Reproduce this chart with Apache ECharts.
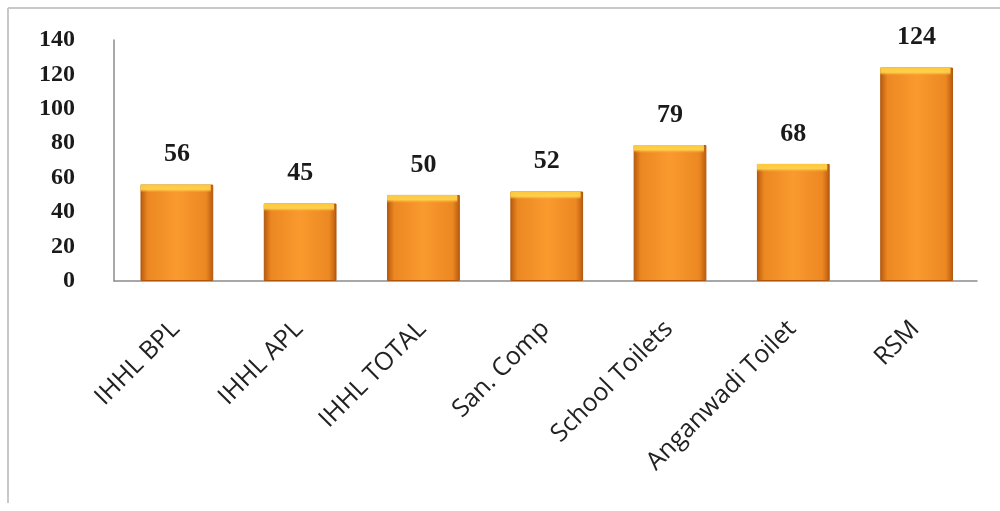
<!DOCTYPE html>
<html><head><meta charset="utf-8">
<script src="https://cdn.jsdelivr.net/npm/echarts@6/dist/echarts.min.js"></script>
<style>html,body{margin:0;padding:0;background:#fff}#c{width:1000px;height:511px}</style>
</head><body><div id="c"></div>
<script>
const categories = ['IHHL BPL', 'IHHL APL', 'IHHL TOTAL', 'San. Comp', 'School Toilets', 'Anganwadi Toilet', 'RSM'];
const values = [56, 45, 50, 52, 79, 68, 124];
const yTicks = [0, 20, 40, 60, 80, 100, 120, 140];

const chart = echarts.init(document.getElementById('c'), null, {renderer: 'canvas'});
const barFill = new echarts.graphic.LinearGradient(0, 0, 1, 0, [
  {offset: 0, color: '#B8590C'},
  {offset: 0.1, color: '#EC8822'},
  {offset: 0.5, color: '#F99A2E'},
  {offset: 0.9, color: '#EC8822'},
  {offset: 1, color: '#B8590C'}
]);
const plotH = 511 - 40 - 230;
const yMax = yTicks[yTicks.length - 1];
// top bevel highlight overlay (style only, same values)
const highlight = values.map(v => {
  const h = v / yMax * plotH;
  const o = Math.min(0.5, 8 / h);
  return {
    value: v,
    itemStyle: {
      color: new echarts.graphic.LinearGradient(0, 0, 0, 1, [
        {offset: 0, color: 'rgba(255,200,60,1)'},
        {offset: o * 0.6, color: 'rgba(255,215,80,0.9)'},
        {offset: o, color: 'rgba(255,180,60,0)'},
        {offset: 1, color: 'rgba(255,180,60,0)'}
      ])
    }
  };
});
chart.setOption({
  animation: false,
  backgroundColor: '#fff',
  graphic: [
    {type: 'line', silent: true, shape: {x1: 8, y1: 8, x2: 1000, y2: 8}, style: {stroke: '#c8c8c8', lineWidth: 2}},
    {type: 'line', silent: true, shape: {x1: 8, y1: 8, x2: 8, y2: 503}, style: {stroke: '#c8c8c8', lineWidth: 2}}
  ],
  grid: {left: 114, right: 23, top: 40, bottom: 230},
  xAxis: {
    type: 'category', data: categories,
    axisLine: {show: true, lineStyle: {color: '#8c8c8c', width: 1.5}},
    axisTick: {show: false},
    axisLabel: {rotate: 45, margin: 44, interval: 0, color: '#222', fontFamily: 'Open Sans', fontSize: 25}
  },
  yAxis: {
    type: 'value', min: yTicks[0], max: yMax, interval: 20,
    axisLine: {show: true, lineStyle: {color: '#8c8c8c', width: 1.5}},
    axisTick: {show: false},
    splitLine: {show: false},
    axisLabel: {margin: 39, color: '#1a1a1a', fontFamily: 'Liberation Serif', fontWeight: 'bold', fontSize: 24}
  },
  series: [{
    type: 'bar', data: values, barWidth: '59%',
    itemStyle: {color: barFill, borderColor: '#B0560E', borderWidth: 1},
    label: {show: true, position: 'top', distance: 17, color: '#1a1a1a', fontFamily: 'Liberation Serif', fontWeight: 'bold', fontSize: 26}
  }, {
    type: 'bar', data: highlight, barWidth: '57%', barGap: '-100%', silent: true,
    z: 3
  }]
});
</script></body></html>
